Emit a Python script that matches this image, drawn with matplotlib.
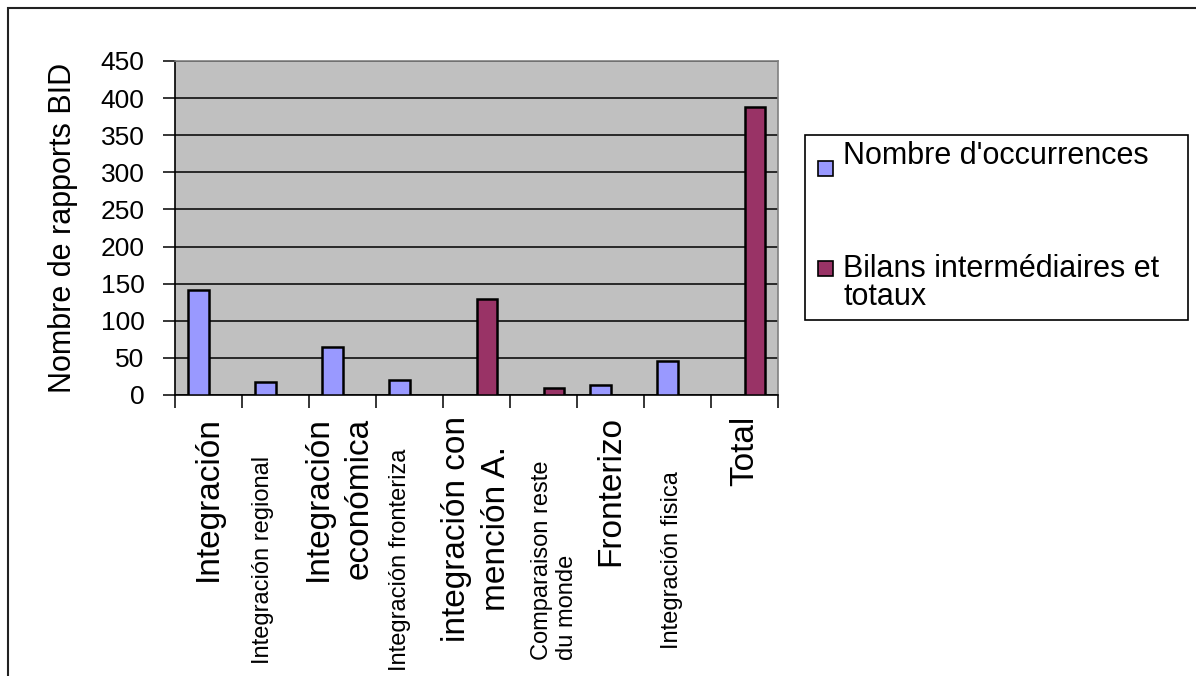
import numpy as np
import matplotlib.pyplot as plt
from matplotlib.patches import Rectangle
from matplotlib.transforms import blended_transform_factory

plt.rcParams['font.family'] = ['Liberation Sans', 'DejaVu Sans']

# category labels, occurrences and intermediate/total counts (None = no bar)
categories = ["Integración", "Integración regional", "Integración\neconómica",
              "Integración fronteriza", "integración con\nmención A.",
              "Comparaison reste\ndu monde", "Fronterizo", "Integración fisica",
              "Total"]
occurrences = [142, 17, 64, 20, None, None, 14, 46, None]
bilans = [None, None, None, None, 129, 10, None, None, 388]
big_label = [True, False, True, False, True, False, True, False, True]

yticks = list(range(0, 451, 50))
series_names = ["Nombre d'occurrences", "Bilans intermédiaires et\ntotaux"]
colors = ["#9999FF", "#993366"]

# small horizontal nudges for the category labels
label_shift = [0, -0.19, -0.05, -0.14, 0, 0.16, 0, -0.08, 0]
label_align = ["center", "left", "center", "left", "center", "left",
               "center", "left", "center"]

W, H = 1196, 676
fig = plt.figure(figsize=(W / 100, H / 100), dpi=100)
fig.patch.set_facecolor("white")


def fx(px):
    return px / W


def fy(py):
    return 1 - py / H


# outer chart frame
fig.add_artist(Rectangle((fx(8), fy(690)), fx(1210) - fx(8), fy(8) - fy(690),
                         transform=fig.transFigure, fill=False,
                         edgecolor="#222222", linewidth=1.5))

ax = fig.add_axes([fx(175), fy(395), fx(778) - fx(175), fy(61) - fy(395)])
ax.set_facecolor("#C0C0C0")

x = np.arange(len(categories))
w = 0.3
occ = np.array([np.nan if v is None else v for v in occurrences], dtype=float)
bil = np.array([np.nan if v is None else v for v in bilans], dtype=float)
m1 = ~np.isnan(occ)
m2 = ~np.isnan(bil)
ax.bar(x[m1] - w / 2, occ[m1], width=w, color=colors[0], edgecolor="black",
       linewidth=1.8, zorder=3)
ax.bar(x[m2] + w / 2, bil[m2], width=w, color=colors[1], edgecolor="black",
       linewidth=1.8, zorder=3)

ax.set_xlim(-0.5, len(categories) - 0.5)
ax.set_ylim(0, 450)
ax.set_yticks(yticks)
ax.set_yticklabels([str(t) for t in yticks], fontsize=19)
ax.yaxis.grid(True, color="black", linewidth=1.1, zorder=1)
ax.set_axisbelow(True)
ax.tick_params(axis="y", direction="out", length=9, width=1.1, pad=13)

ax.set_xticks(np.arange(len(categories) + 1) - 0.5)
ax.set_xticklabels([])
ax.tick_params(axis="x", direction="out", length=9, width=1.1)

for s in ["left", "bottom"]:
    ax.spines[s].set_color("black")
    ax.spines[s].set_linewidth(1.2)
for s in ["top", "right"]:
    ax.spines[s].set_color("#808080")
    ax.spines[s].set_linewidth(1.2)

# y axis title, centred on a fixed column left of the tick labels
fig.text(fx(63), 0.5 * (fy(395) + fy(61)), "Nombre de rapports BID",
         fontsize=22, rotation=90, ha="center", va="center")

# category labels below the axis, rotated
trans = blended_transform_factory(ax.transData, fig.transFigure)
for i, lab in enumerate(categories):
    if big_label[i]:
        ax.text(i + label_shift[i], fy(416), lab, transform=trans,
                rotation=90, fontsize=24, ha="center", va="top",
                multialignment=label_align[i], linespacing=1.4)
    else:
        ax.text(i + label_shift[i], fy(560), lab, transform=trans,
                rotation=90, fontsize=17, ha="center", va="center",
                multialignment=label_align[i], linespacing=1.2)

# legend box
fig.add_artist(Rectangle((fx(805), fy(320)), fx(1188) - fx(805),
                         fy(135) - fy(320), transform=fig.transFigure,
                         facecolor="white", edgecolor="black", linewidth=1.2))
rows = [(161, 164), (261, 277)]
for (sq_top, base), name, c in zip(rows, series_names, colors):
    fig.add_artist(Rectangle((fx(818), fy(sq_top + 15)), fx(15), 15 / H,
                             transform=fig.transFigure, facecolor=c,
                             edgecolor="black", linewidth=1.2))
    first, *rest = name.split("\n")
    fig.text(fx(843), fy(base), first, fontsize=22, va="baseline",
             ha="left")
    for k, line in enumerate(rest, start=1):
        fig.text(fx(843), fy(base + 28 * k), line, fontsize=22,
                 va="baseline", ha="left")

fig.savefig("out.png", dpi=100)
